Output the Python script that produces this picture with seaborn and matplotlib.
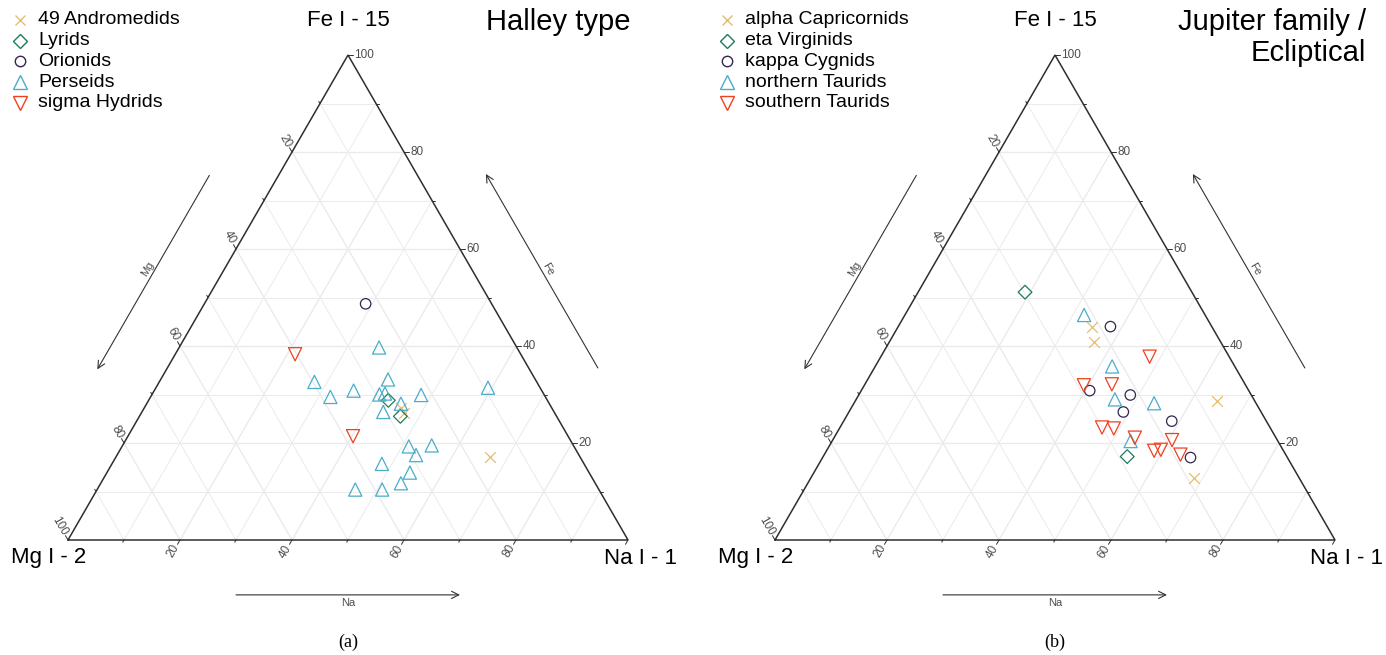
import numpy as np
import pandas as pd
import matplotlib
matplotlib.use("Agg")
import matplotlib.pyplot as plt
import seaborn as sns

sns.set_style("white")
plt.rcParams["font.family"] = ["Liberation Sans", "DejaVu Sans"]
plt.rcParams["text.color"] = "black"

# ---------------------------------------------------------------------------
# Relative line intensities (%) of Fe I - 15, Mg I - 2 and Na I - 1
# ---------------------------------------------------------------------------
# Halley-type showers
and49_fe = [27.3, 26.1, 17.2]
and49_mg = [26.9, 27.0, 16.1]
and49_na = [45.8, 46.9, 66.7]

lyr_fe = [28.8, 25.5]
lyr_mg = [28.4, 27.9]
lyr_na = [42.8, 46.6]

ori_fe = [48.7]
ori_mg = [22.5]
ori_na = [28.8]

per_fe = [39.7, 32.6, 29.5, 30.8, 33.1, 30.0, 30.2, 28.1, 26.4, 29.9,
          31.4, 19.3, 19.5, 17.5, 15.7, 13.9, 11.7, 10.4, 10.4]
per_mg = [24.6, 39.7, 38.4, 33.6, 26.3, 29.4, 28.3, 26.5, 30.5, 22.0,
          9.3, 29.5, 25.3, 29.1, 36.1, 32.0, 34.7, 43.5, 38.7]
per_na = [35.7, 27.7, 32.1, 35.6, 40.6, 40.6, 41.5, 45.4, 43.1, 48.1,
          59.3, 51.2, 55.2, 53.4, 48.2, 54.1, 53.6, 46.1, 50.9]

shy_fe = [38.3, 21.4]
shy_mg = [40.3, 38.4]
shy_na = [21.4, 40.2]

# Jupiter-family / ecliptical showers
cap_fe = [44.0, 40.8, 28.6, 12.7]
cap_mg = [21.4, 22.6, 6.8, 18.8]
cap_na = [34.6, 36.6, 64.6, 68.5]

vir_fe = [51.1, 17.2]
vir_mg = [29.8, 28.5]
vir_na = [19.1, 54.3]

cyg_fe = [44.0, 30.8, 29.9, 26.4, 24.5, 17.0]
cyg_mg = [18.1, 28.4, 21.6, 24.6, 16.9, 17.3]
cyg_na = [37.9, 40.8, 48.5, 49.0, 58.6, 65.7]

nta_fe = [46.4, 35.8, 29.0, 28.2, 20.4]
nta_mg = [21.6, 21.9, 24.8, 18.2, 26.3]
nta_na = [32.0, 42.3, 46.2, 53.6, 53.3]

sta_fe = [37.8, 31.9, 32.1, 23.2, 23.0, 21.1, 20.6, 18.4, 18.6, 17.6]
sta_mg = [14.2, 28.9, 23.8, 30.0, 28.0, 25.2, 18.8, 23.1, 21.8, 18.8]
sta_na = [48.0, 39.2, 44.1, 46.8, 49.0, 53.7, 60.6, 58.5, 59.6, 63.6]

# ---------------------------------------------------------------------------
# Styles
# ---------------------------------------------------------------------------
C_CROSS = "#E6BC6E"
C_DIAMOND = "#1E7B5E"
C_CIRCLE = "#33264F"
C_TRI = "#4AADC9"
C_DTRI = "#F0401F"

STYLE = {
    "x": dict(marker="x", size=7.7),
    "D": dict(marker="D", size=7.0),
    "o": dict(marker="o", size=7.5),
    "^": dict(marker="^", size=9.5),
    "v": dict(marker="v", size=9.5),
}

panel_a = [
    ("49 Andromedids", and49_fe, and49_mg, and49_na, "x", C_CROSS),
    ("Lyrids", lyr_fe, lyr_mg, lyr_na, "D", C_DIAMOND),
    ("Orionids", ori_fe, ori_mg, ori_na, "o", C_CIRCLE),
    ("Perseids", per_fe, per_mg, per_na, "^", C_TRI),
    ("sigma Hydrids", shy_fe, shy_mg, shy_na, "v", C_DTRI),
]
panel_b = [
    ("alpha Capricornids", cap_fe, cap_mg, cap_na, "x", C_CROSS),
    ("eta Virginids", vir_fe, vir_mg, vir_na, "D", C_DIAMOND),
    ("kappa Cygnids", cyg_fe, cyg_mg, cyg_na, "o", C_CIRCLE),
    ("northern Taurids", nta_fe, nta_mg, nta_na, "^", C_TRI),
    ("southern Taurids", sta_fe, sta_mg, sta_na, "v", C_DTRI),
]

W, H = 1386, 655
SIDE = 560.0          # triangle side in pixels
BASE = 540.0          # pixel row of the triangle base
S3 = np.sqrt(3) / 2

GRID = "#EBEBEB"
EDGE = "#2E2E2E"
TICKC = "#4D4D4D"
ARROWC = "#333333"


def to_xy(fe, mg, na):
    fe, mg, na = (np.asarray(v, dtype=float) for v in (fe, mg, na))
    tot = fe + mg + na
    return (na + fe / 2) / tot, (fe * S3) / tot


def scatter_group(ax, fe, mg, na, mk, col):
    x, y = to_xy(fe, mg, na)
    st = STYLE[mk]
    df = pd.DataFrame({"x": x, "y": y})
    kw = dict(data=df, x="x", y="y", ax=ax, marker=st["marker"],
              s=st["size"] ** 2, linewidth=0.9, legend=False, zorder=5)
    if mk == "x":
        sns.scatterplot(color=col, **kw)
    else:
        sns.scatterplot(color=col, facecolor="none", edgecolor=col, **kw)


def ternary_panel(ax, vx, groups, title_lines, title_right_px, caption):
    # data units: triangle side = 1, bottom-left vertex at the origin
    ax.set_xlim((0 - vx) / SIDE, (W / 2 - vx) / SIDE)
    ax.set_ylim((BASE - H) / SIDE, BASE / SIDE)
    ax.axis("off")

    # grid lines every 10 %
    for c in np.arange(10, 100, 10):
        lw = 1.0 if c % 20 == 0 else 0.7
        segs = [
            to_xy([c, c], [100 - c, 0], [0, 100 - c]),          # Fe = c
            to_xy([0, 100 - c], [100 - c, 0], [c, c]),          # Na = c
            to_xy([0, 100 - c], [c, c], [100 - c, 0]),          # Mg = c
        ]
        for sx, sy in segs:
            ax.plot(sx, sy, color=GRID, lw=lw, zorder=0, solid_capstyle="butt")

    # triangle outline
    tx, ty = to_xy([0, 100, 0, 0], [100, 0, 0, 100], [0, 0, 100, 0])
    ax.plot(tx, ty, color=EDGE, lw=1.1, zorder=3, solid_joinstyle="miter")

    # ticks and tick labels
    tl_major, tl_minor, pad = 5 / SIDE, 2.5 / SIDE, 1.5 / SIDE
    d_fe = np.array([1.0, 0.0])
    d_mg = np.array([-0.5, S3])
    d_na = np.array([-0.5, -S3])
    for c in np.arange(10, 110, 10):
        major = c % 20 == 0
        tl = tl_major if major else tl_minor
        for axis in ("fe", "mg", "na"):
            if axis == "fe":
                p = np.array(to_xy(c, 0, 100 - c)); d = d_fe
                rot, ha = 0, "left"
            elif axis == "mg":
                p = np.array(to_xy(100 - c, c, 0)); d = d_mg
                rot, ha = -60, "right"
            else:
                p = np.array(to_xy(0, 100 - c, c)); d = d_na
                rot, ha = 60, "right"
            q = p + d * tl
            ax.plot([p[0], q[0]], [p[1], q[1]], color=EDGE, lw=0.7, zorder=3)
            if major and not (axis == "na" and c == 100):
                a = p + d * (tl_major + pad)
                ax.text(a[0], a[1], f"{c:d}", rotation=rot, ha=ha, va="center",
                        rotation_mode="anchor", fontsize=8.5, color=TICKC)

    # axis arrows
    aprops = dict(arrowstyle="->", lw=0.8, color=ARROWC, shrinkA=0, shrinkB=0,
                  mutation_scale=13)
    nL = np.array([-S3, 0.5])
    nR = np.array([S3, 0.5])
    eL = np.array([0.5, S3])
    eR = np.array([-0.5, S3])
    off = 0.107
    a0 = eL * 0.69 + nL * off
    a1 = eL * 0.29 + nL * off
    ax.annotate("", xy=a1, xytext=a0, arrowprops=aprops)
    m = eL * 0.49 + nL * (off + 0.011)
    ax.text(m[0], m[1], "Mg", rotation=60, ha="center", va="center",
            rotation_mode="anchor", fontsize=8, color=TICKC)

    b0 = np.array([1.0, 0.0]) + eR * 0.293 + nR * off
    b1 = np.array([1.0, 0.0]) + eR * 0.693 + nR * off
    ax.annotate("", xy=b1, xytext=b0, arrowprops=aprops)
    m = np.array([1.0, 0.0]) + eR * 0.49 + nR * (off + 0.011)
    ax.text(m[0], m[1], "Fe", rotation=-60, ha="center", va="center",
            rotation_mode="anchor", fontsize=8, color=TICKC)

    ax.annotate("", xy=(0.7, -0.098), xytext=(0.3, -0.098), arrowprops=aprops)
    ax.text(0.5, -0.112, "Na", ha="center", va="center", fontsize=8, color=TICKC)

    # vertex labels
    ax.text(0.5, (BASE - 20) / SIDE, "Fe I - 15", ha="center", va="center",
            fontsize=16)
    ax.text(-19 / SIDE, -18 / SIDE, "Mg I - 2", ha="center", va="center",
            fontsize=16)
    ax.text(1 + 12 / SIDE, -18 / SIDE, "Na I - 1", ha="center", va="center",
            fontsize=16)

    # title, right aligned, one line per entry
    tx_right = (title_right_px - vx) / SIDE
    for i, line in enumerate(title_lines):
        ax.text(tx_right, (BASE - 22 - 31 * i) / SIDE, line, ha="right",
                va="center", fontsize=21)

    # caption
    ax.text(0.5, (BASE - 642) / SIDE, caption, ha="center", va="center",
            fontsize=13, family=["Liberation Serif", "DejaVu Serif"])

    # points
    for name, fe, mg, na, mk, col in groups:
        scatter_group(ax, fe, mg, na, mk, col)

    # legend
    for i, (name, fe, mg, na, mk, col) in enumerate(groups):
        ly = (BASE - 20 - 20.7 * i) / SIDE
        st = STYLE[mk]
        if mk == "x":
            ax.plot([-48 / SIDE], [ly], ls="none", marker="x", ms=st["size"],
                    mew=1.0, color=col, clip_on=False)
        else:
            ax.plot([-48 / SIDE], [ly], ls="none", marker=st["marker"],
                    ms=st["size"], mew=1.0, mfc="none", mec=col, clip_on=False)
        ax.text(-30 / SIDE, ly, name, ha="left", va="center", fontsize=14)


fig = plt.figure(figsize=(W / 100, H / 100), dpi=100)
ax_a = fig.add_axes([0, 0, 0.5, 1])
ax_b = fig.add_axes([0.5, 0, 0.5, 1])

ternary_panel(ax_a, 68, panel_a, ["Halley type"], 630, "(a)")
ternary_panel(ax_b, 775 - W / 2, panel_b, ["Jupiter family /", "Ecliptical"],
              1366 - W / 2, "(b)")

fig.savefig("out.png", dpi=100)
